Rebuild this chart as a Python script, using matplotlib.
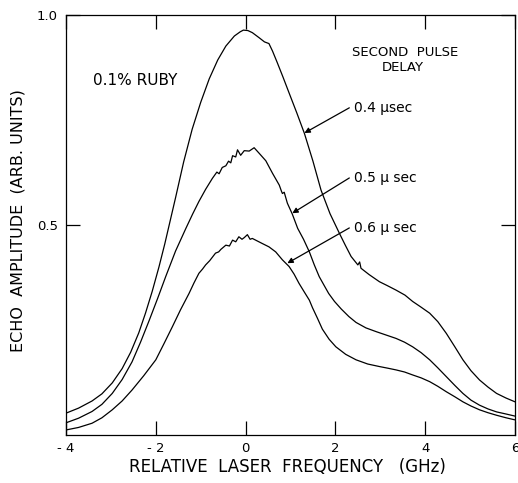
import matplotlib
matplotlib.use("Agg")
import matplotlib.pyplot as plt

# ---- data ----
x1 = [-4.0, -3.72, -3.42, -3.20, -2.97, -2.75, -2.56, -2.38, -2.23, -2.08, -1.93, -1.80, -1.68,
      -1.56, -1.38, -1.19, -1.00, -0.81, -0.62, -0.44, -0.25, -0.12, -0.05, 0.05, 0.15, 0.30,
      0.42, 0.52, 0.60, 0.70, 0.83, 0.97, 1.14, 1.31, 1.50, 1.68, 1.88, 2.09, 2.22, 2.35, 2.50,
      2.54, 2.57, 2.75, 2.98, 3.15, 3.35, 3.55, 3.72, 3.90, 4.10, 4.28, 4.47, 4.66, 4.84, 5.02,
      5.21, 5.40, 5.59, 5.80, 6.0]
y1 = [0.052, 0.064, 0.081, 0.098, 0.124, 0.158, 0.197, 0.243, 0.290, 0.342, 0.400, 0.455, 0.510,
      0.565, 0.650, 0.728, 0.792, 0.848, 0.893, 0.926, 0.950, 0.960, 0.964, 0.963, 0.958, 0.946,
      0.936, 0.932, 0.914, 0.888, 0.853, 0.814, 0.767, 0.718, 0.652, 0.583, 0.527, 0.480, 0.452,
      0.425, 0.405, 0.412, 0.397, 0.382, 0.365, 0.356, 0.345, 0.333, 0.318, 0.305, 0.290, 0.270,
      0.242, 0.210, 0.179, 0.153, 0.131, 0.114, 0.099, 0.088, 0.079]

x2 = [-4.0, -3.72, -3.42, -3.20, -2.97, -2.75, -2.53, -2.34, -2.15, -1.96, -1.78, -1.56, -1.33,
      -1.18, -1.04, -0.89, -0.74, -0.64, -0.59, -0.52, -0.44, -0.38, -0.33, -0.29, -0.22, -0.18,
      -0.11, -0.03, 0.08, 0.19, 0.30, 0.45, 0.60, 0.75, 0.80, 0.82, 0.86, 0.93, 1.04, 1.16, 1.29,
      1.42, 1.53, 1.64, 1.75, 1.85, 1.98, 2.13, 2.30, 2.46, 2.68, 2.91, 3.13, 3.35, 3.54, 3.72,
      3.91, 4.10, 4.28, 4.47, 4.66, 4.84, 5.02, 5.21, 5.40, 5.59, 5.80, 6.0]
y2 = [0.029, 0.040, 0.056, 0.073, 0.099, 0.132, 0.174, 0.221, 0.272, 0.325, 0.377, 0.438, 0.492,
      0.526, 0.556, 0.585, 0.611, 0.626, 0.622, 0.637, 0.641, 0.652, 0.648, 0.665, 0.662, 0.679,
      0.666, 0.677, 0.676, 0.684, 0.671, 0.653, 0.623, 0.595, 0.580, 0.575, 0.578, 0.552, 0.526,
      0.492, 0.466, 0.436, 0.405, 0.377, 0.356, 0.337, 0.318, 0.300, 0.282, 0.268, 0.255, 0.246,
      0.238, 0.230, 0.221, 0.210, 0.196, 0.179, 0.160, 0.139, 0.118, 0.099, 0.083, 0.071, 0.062,
      0.055, 0.050, 0.045]

x3 = [-4.0, -3.72, -3.42, -3.20, -2.97, -2.75, -2.53, -2.27, -2.0, -1.82, -1.63, -1.45, -1.26,
      -1.15, -1.04, -0.96, -0.89, -0.80, -0.67, -0.60, -0.55, -0.44, -0.36, -0.29, -0.22, -0.15,
      -0.08, -0.03, 0.04, 0.10, 0.15, 0.26, 0.37, 0.52, 0.67, 0.82, 0.97, 1.08, 1.19, 1.31, 1.42,
      1.49, 1.60, 1.71, 1.86, 2.01, 2.23, 2.46, 2.72, 2.98, 3.17, 3.35, 3.54, 3.72, 3.91, 4.10,
      4.28, 4.47, 4.66, 4.84, 5.02, 5.21, 5.40, 5.59, 5.80, 6.0]
y3 = [0.012, 0.018, 0.028, 0.041, 0.060, 0.081, 0.107, 0.141, 0.179, 0.217, 0.258, 0.298, 0.337,
      0.362, 0.385, 0.395, 0.405, 0.415, 0.433, 0.436, 0.442, 0.452, 0.450, 0.464, 0.460, 0.472,
      0.466, 0.470, 0.477, 0.466, 0.468, 0.462, 0.456, 0.448, 0.436, 0.417, 0.401, 0.383, 0.361,
      0.340, 0.321, 0.303, 0.278, 0.252, 0.228, 0.210, 0.192, 0.179, 0.169, 0.163, 0.159, 0.155,
      0.150, 0.143, 0.136, 0.127, 0.116, 0.103, 0.091, 0.079, 0.069, 0.060, 0.053, 0.047, 0.041,
      0.036]

series = [(x1, y1), (x2, y2), (x3, y3)]
series_labels = ["0.4 μsec", "0.5 μ sec", "0.6 μ sec"]
label_pos = [(2.42, 0.779), (2.42, 0.612), (2.42, 0.493)]
arrow_tips = [(1.31, 0.719), (1.04, 0.528), (0.93, 0.409)]

xticks = [-4, -2, 0, 2, 4, 6]
xticklabels = ["- 4", "- 2", "0", "2", "4", "6"]
yticks = [0.5, 1.0]
yticklabels = ["0.5", "1.0"]

plt.rcParams['font.family'] = ['DejaVu Sans']

fig = plt.figure(figsize=(5.18, 4.83), dpi=100)
ax = fig.add_axes([66/518, 48/483, 449/518, 420/483])

for xs, ys in series:
    ax.plot(xs, ys, color='black', lw=0.9)

ax.set_xlim(-4, 6)
ax.set_ylim(0, 1.0)
ax.set_xticks(xticks)
ax.set_xticklabels(xticklabels, fontsize=9.5)
ax.set_yticks(yticks)
ax.set_yticklabels(yticklabels, fontsize=9.5)
ax.tick_params(axis='both', direction='in', length=10, width=0.9,
               top=True, right=True)
ax.tick_params(axis='x', pad=5)
ax.tick_params(axis='y', pad=6)
for s in ax.spines.values():
    s.set_linewidth(0.9)

ax.text(-2.46, 0.845, "0.1% RUBY", fontsize=11, ha='center', va='center')
ax.text(3.56, 0.91, "SECOND  PULSE", fontsize=9.5, ha='center', va='center')
ax.text(3.49, 0.876, "DELAY", fontsize=9.5, ha='center', va='center')

for lab, (tx, ty), (hx, hy) in zip(series_labels, label_pos, arrow_tips):
    ax.annotate("", xy=(hx, hy), xytext=(tx - 0.11, ty),
                arrowprops=dict(arrowstyle='-|>', color='black', lw=0.9,
                                mutation_scale=8, shrinkA=0, shrinkB=0))
    ax.text(tx, ty, lab, fontsize=10, ha='left', va='center')

fig.text(287/518, 1 - 467/483, "RELATIVE  LASER  FREQUENCY   (GHz)", fontsize=12,
         ha='center', va='center')
fig.text(18/518, 1 - 221/483, "ECHO  AMPLITUDE  (ARB. UNITS)", fontsize=11.5,
         ha='center', va='center', rotation=90)

fig.savefig("out.png", dpi=100)
